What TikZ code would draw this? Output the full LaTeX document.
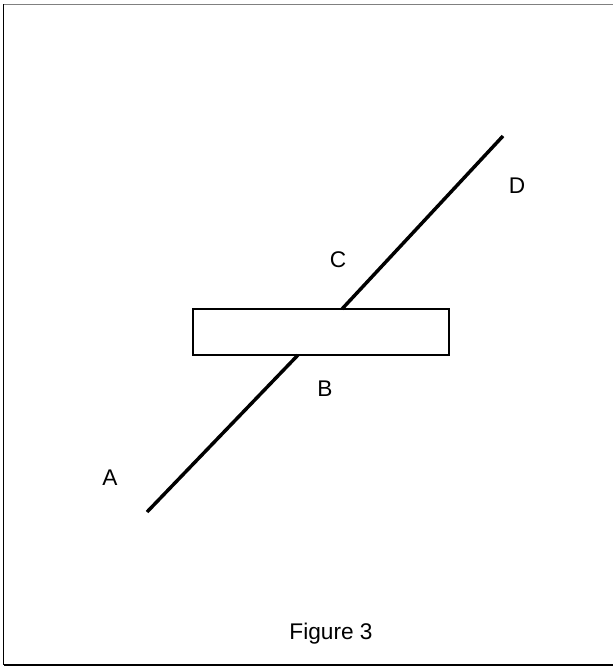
\documentclass[tikz,border=0pt]{standalone}
\usepackage{fontspec}
\setmainfont{Liberation Sans}
\begin{document}
\begin{tikzpicture}[x=0.75pt,y=-0.75pt,
  lbl/.style={font=\fontsize{17}{19}\selectfont, inner sep=0pt},
  rod/.style={line width=2.6pt},
  box/.style={draw, line width=1.5pt, minimum width=256.6*0.75pt, minimum height=46.6*0.75pt, inner sep=0pt}]
\useasboundingbox (0,0) rectangle (613,667);
\fill[white] (0,0) rectangle (613,667);
% frame
\draw[gray, line width=1.2pt] (3,4.5) -- (613,4.5);
\draw[line width=0.8pt] (3.5,4.5) -- (3.5,665);
\draw[line width=0.8pt] (3.5,665) -- (613,665);
% bar
\node[box] (bar) at (321,332) {};
\coordinate (A0) at (147,512);
\coordinate (B0) at (298,355);
\coordinate (C0) at (342,309);
\coordinate (D0) at (503,136);
\draw[rod] (A0) -- (B0);
\draw[rod] (C0) -- (D0);
% labels
\node[lbl] (A) at (110,478) {A};
\node[lbl] (B) at (325,389) {B};
\node[lbl] (C) at (338,260) {C};
\node[lbl] (D) at (517,186) {D};
\node[lbl] (cap) at (331,634) {Figure 3};
\end{tikzpicture}
\end{document}
